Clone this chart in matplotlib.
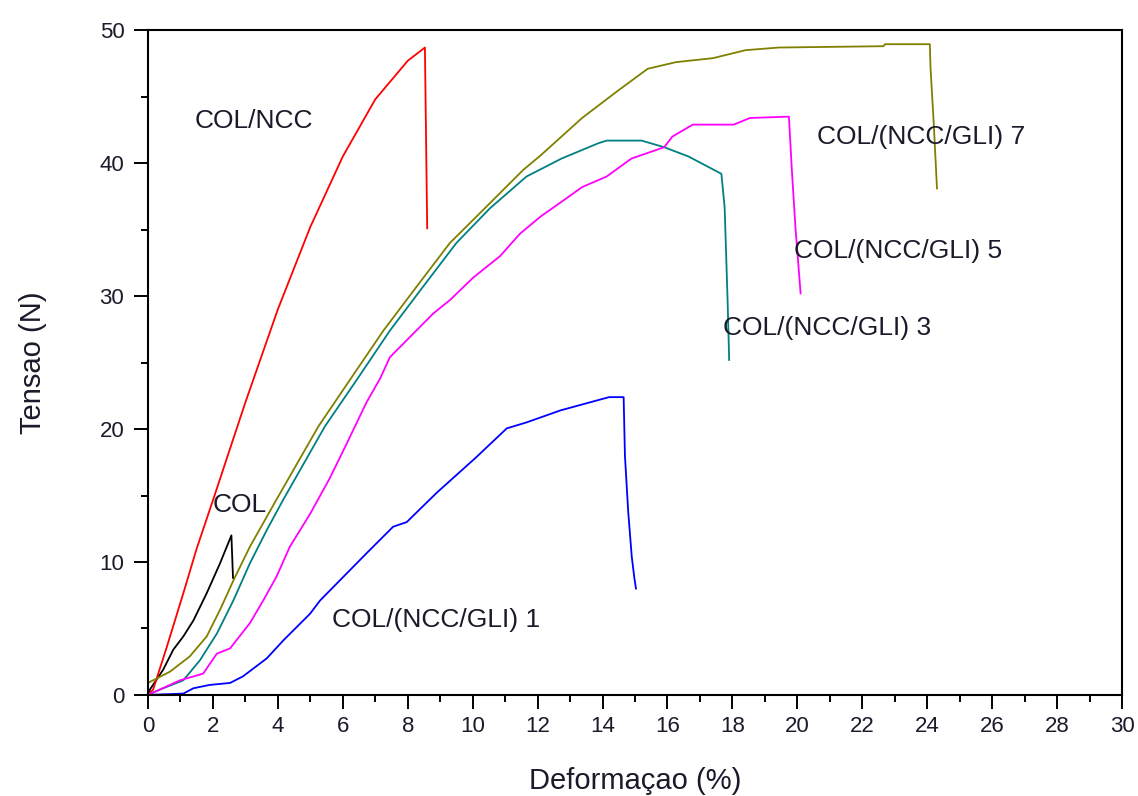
import matplotlib
matplotlib.use('Agg')
import matplotlib.pyplot as plt
from matplotlib.ticker import MultipleLocator

plt.rcParams['font.family'] = ['Liberation Sans', 'DejaVu Sans']

# curve data: strain (%) and tension (N)
col_x = [0, 0.06, 0.47, 0.78, 1.09, 1.4, 1.81, 2.22, 2.57, 2.62]
col_y = [0, 0.4, 1.9, 3.4, 4.4, 5.6, 7.65, 9.9, 12.0, 8.8]

ncc_x = [0, 0.16, 0.58, 1.09, 1.5, 2.01, 3.0, 4.0, 5.0, 6.0, 7.0, 8.0, 8.53, 8.6]
ncc_y = [0, 0.4, 3.6, 7.65, 11.0, 14.7, 22.0, 29.0, 35.2, 40.5, 44.8, 47.7, 48.7, 35.1]

gli1_x = [0, 1.09, 1.4, 1.9, 2.53, 2.93, 3.66, 4.17, 4.99, 5.3, 6.73, 7.55, 7.97, 8.89,
          10.12, 11.05, 11.66, 12.7, 14.2, 14.65, 14.69, 14.79, 14.9, 14.98, 15.03]
gli1_y = [0, 0.1, 0.5, 0.75, 0.9, 1.4, 2.75, 4.1, 6.1, 7.1, 10.65, 12.65, 13.0, 15.2,
          17.9, 20.05, 20.5, 21.4, 22.4, 22.4, 18.0, 13.8, 10.4, 8.8, 8.0]

gli3_x = [0, 0.37, 1.09, 1.6, 2.12, 2.63, 3.14, 3.66, 4.17, 5.45, 6.43, 7.45, 8.47, 9.5,
          10.53, 11.66, 12.74, 13.87, 14.13, 15.2, 15.9, 16.65, 17.66, 17.76, 17.85, 17.9]
gli3_y = [0, 0.4, 1.1, 2.6, 4.6, 7.1, 9.9, 12.4, 14.7, 20.2, 23.7, 27.4, 30.7, 34.0,
          36.6, 39.0, 40.35, 41.5, 41.7, 41.7, 41.2, 40.5, 39.2, 36.7, 29.8, 25.2]

gli5_x = [0, 0.99, 1.7, 2.12, 2.53, 3.14, 3.55, 3.96, 4.37, 4.99, 5.6, 6.12, 6.73, 7.15,
          7.45, 8.79, 9.3, 10.02, 10.84, 11.46, 12.1, 12.74, 13.37, 14.13, 14.89, 15.9,
          16.15, 16.78, 18.04, 18.54, 19.74, 19.83, 19.94, 20.1]
gli5_y = [0, 1.1, 1.6, 3.1, 3.5, 5.4, 7.1, 8.9, 11.15, 13.6, 16.3, 18.9, 22.0, 23.8,
          25.4, 28.7, 29.7, 31.4, 33.0, 34.7, 36.0, 37.1, 38.2, 39.0, 40.35, 41.2,
          42.0, 42.9, 42.9, 43.4, 43.5, 39.5, 35.2, 30.2]

gli7_x = [0, 0.68, 1.29, 1.81, 2.22, 2.63, 3.14, 3.66, 3.96, 5.25, 6.22, 7.25, 8.27, 9.3,
          10.33, 11.56, 12.1, 13.37, 14.5, 15.39, 16.26, 17.4, 18.4, 19.43, 22.65, 22.7,
          24.08, 24.1, 24.2, 24.3]
gli7_y = [0.9, 1.75, 2.9, 4.4, 6.4, 8.6, 11.15, 13.4, 14.7, 20.2, 23.7, 27.4, 30.7, 34.0,
          36.5, 39.5, 40.6, 43.4, 45.5, 47.1, 47.6, 47.9, 48.5, 48.7, 48.8, 48.95,
          48.95, 47.2, 43.0, 38.1]

labels = ['COL', 'COL/NCC', 'COL/(NCC/GLI) 1', 'COL/(NCC/GLI) 3',
          'COL/(NCC/GLI) 5', 'COL/(NCC/GLI) 7']
label_x = [2.0, 1.45, 5.67, 17.7, 19.9, 20.6]
label_y = [14.3, 43.2, 5.6, 27.6, 33.4, 42.0]

fig = plt.figure(figsize=(11.38, 7.96), dpi=100)
ax = fig.add_axes([0.130, 0.127, 0.856, 0.835])

lw = 1.3
ax.plot(col_x, col_y, color='black', linewidth=lw)
ax.plot(ncc_x, ncc_y, color='#ff0000', linewidth=lw)
ax.plot(gli1_x, gli1_y, color='#0000ff', linewidth=lw)
ax.plot(gli3_x, gli3_y, color='#008080', linewidth=lw)
ax.plot(gli5_x, gli5_y, color='#ff00ff', linewidth=lw)
ax.plot(gli7_x, gli7_y, color='#808000', linewidth=lw)

txt_color = '#1a1a2a'
for lab, tx, ty in zip(labels, label_x, label_y):
    ax.text(tx, ty, lab, fontsize=19, color=txt_color, ha='left', va='center')

ax.set_xlim(0, 30)
ax.set_ylim(0, 50)
ax.xaxis.set_major_locator(MultipleLocator(2))
ax.xaxis.set_minor_locator(MultipleLocator(1))
ax.yaxis.set_major_locator(MultipleLocator(10))
ax.yaxis.set_minor_locator(MultipleLocator(5))

ax.tick_params(which='major', direction='out', length=10, width=1.4,
               labelsize=16, colors='black', labelcolor=txt_color)
ax.tick_params(which='minor', direction='out', length=5, width=1.4)
ax.tick_params(axis='y', which='major', pad=7)
ax.tick_params(axis='x', which='major', pad=5)

for sp in ax.spines.values():
    sp.set_linewidth(1.5)
    sp.set_color('black')

ax.set_xlabel('Deformaçao (%)', fontsize=21, color=txt_color, labelpad=22)
ax.set_ylabel('Tensao (N)', fontsize=21, color=txt_color, labelpad=38)

fig.savefig('out.png', dpi=100)
